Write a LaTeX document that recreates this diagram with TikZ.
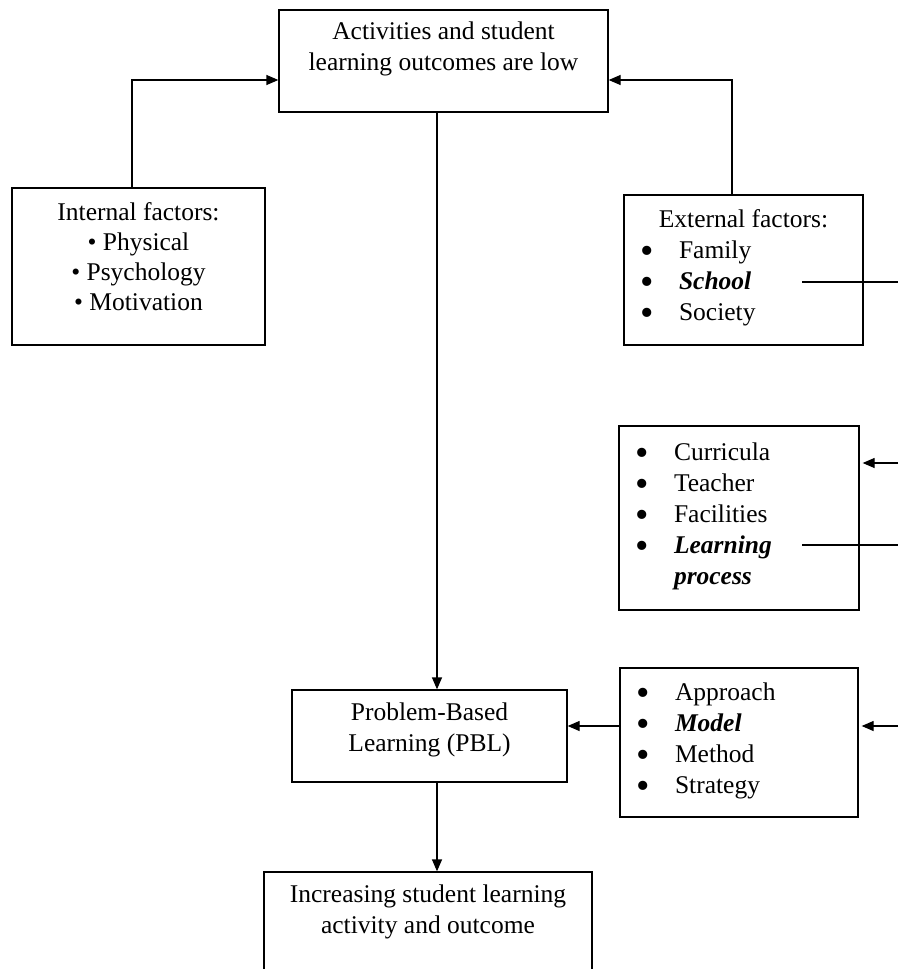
\documentclass[tikz,border=0pt]{standalone}
\usepackage{fontspec}
\usepackage{graphicx}
\setmainfont{Liberation Serif}
\usetikzlibrary{arrows.meta}
\newcommand{\cell}[3]{\parbox[c][#2][t]{#1}{#3}}
\newcommand{\itm}[1]{\hspace*{16pt}\makebox[39pt][l]{\smash{\raisebox{-4.5pt}{\scalebox{1.5}{\textbullet}}}}#1}
\newcommand{\bi}[1]{\textbf{\textit{#1}}}
\begin{document}
\begin{tikzpicture}[x=1pt,y=-1pt,
    blk/.style={draw, line width=1.3pt, inner xsep=0pt, inner ysep=11pt,
      font=\fontsize{25.5pt}{31pt}\selectfont},
    arr/.style={-{Triangle[length=12pt,width=10pt]}, line width=1.3pt}]
    \clip (0,0) rectangle (898,969);
    % boxes
    \node[blk,inner ysep=8pt] (low) at (443.5,61) {\cell{329pt}{86pt}{\centering\strut Activities and student\\ learning outcomes are low}};
    \node[blk,font=\fontsize{25.5pt}{30pt}\selectfont] (int) at (138.5,266.5) {\cell{253pt}{135pt}{\centering\strut Internal factors:\\ \textbullet\ Physical\\ \textbullet\ Psychology\\ \textbullet\ Motivation}};
    \node[blk] (ext) at (743.5,270) {\cell{239pt}{128pt}{\raggedright\strut\makebox[239pt]{External factors:}\\ \itm{Family}\\ \itm{\bi{School}}\\ \itm{Society}}};
    \node[blk,inner ysep=13pt] (mid) at (739,518) {\cell{240pt}{158pt}{\raggedright\strut\itm{Curricula}\\ \itm{Teacher}\\ \itm{Facilities}\\ \itm{\bi{Learning}}\\ \hspace*{55pt}\bi{process}}};
    \node[blk] (strat) at (739,742.5) {\cell{238pt}{127pt}{\raggedright\strut\itm{Approach}\\ \itm{\bi{Model}}\\ \itm{Method}\\ \itm{Strategy}}};
    \node[blk,inner ysep=9pt] (pbl) at (429.5,736) {\cell{275pt}{74pt}{\centering\strut Problem-Based\\ Learning (PBL)}};
    \node[blk,inner ysep=9pt] (fin) at (428,937) {\cell{328pt}{112pt}{\centering\strut Increasing student learning\\ activity and outcome}};
    % free ends at the right edge
    \coordinate (sch) at (802,282);
    \coordinate (lrn) at (802,545);
    \foreach \n/\y in {e1/282,e2/463,e3/545,e4/726}
    \coordinate (\n) at (898,\y);
    % connectors
    \draw[arr] ([xshift=-6.5pt]int.north) |- ([yshift=-19pt]low.west);
    \draw[arr] ([xshift=-11.5pt]ext.north) |- ([yshift=-19pt]low.east);
    \draw[arr] ([xshift=-6.5pt]low.south) -- ([xshift=-6.5pt]low.south |- pbl.north);
    \draw[arr] ([xshift=7.5pt]pbl.south) -- ([xshift=7.5pt]pbl.south |- fin.north);
    \draw[arr] ([yshift=16.5pt]strat.west) -- ([yshift=16.5pt]strat.west -| pbl.east);
    \draw[line width=1.3pt] (sch) -- (e1) (lrn) -- (e3);
    \draw[arr,shorten >=3pt] (e2) -- (e2 -| mid.east);
    \draw[arr,shorten >=3pt] (e4) -- (e4 -| strat.east);
\end{tikzpicture}
\end{document}
